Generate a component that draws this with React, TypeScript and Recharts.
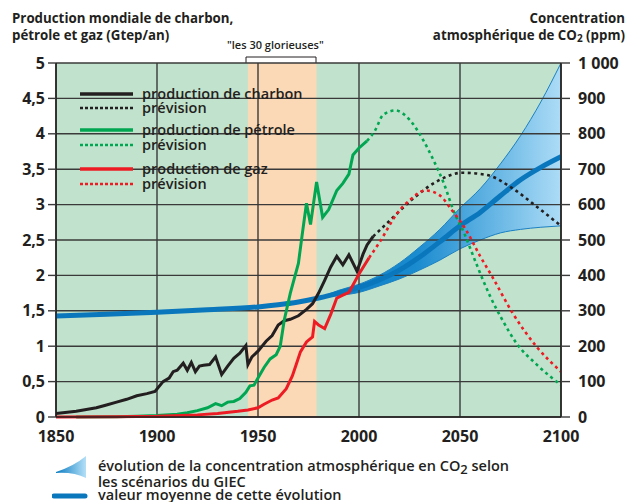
import { Area, CartesianGrid, ComposedChart, Line, ReferenceArea, ReferenceLine, XAxis, YAxis } from "recharts";

const FONT = "'Open Sans', 'DejaVu Sans', sans-serif";
const INK = "#231f20";
const GRID = "#3a3a3a";
const GREEN_BG = "#c1e2cc";
const ORANGE_BG = "#fcd9b6";
const COAL_COLOR = "#231f20";
const OIL_COLOR = "#00a651";
const GAS_COLOR = "#ed1c24";
const CO2_COLOR = "#0a77bd";

const X_TICKS = [1850, 1900, 1950, 2000, 2050, 2100];
const Y_TICKS = [0, 0.5, 1, 1.5, 2, 2.5, 3, 3.5, 4, 4.5, 5];
const CO2_TICKS = [0, 100, 200, 300, 400, 500, 600, 700, 800, 900, 1000];

// production (Gtep/an)
const COAL_YEARS = [1850, 1860, 1870, 1875, 1880, 1885, 1890, 1895, 1899, 1903, 1906, 1908, 1910, 1913, 1915, 1917, 1919, 1921, 1923, 1926, 1929, 1932, 1935, 1938, 1941, 1944, 1945, 1947, 1950, 1954, 1957, 1960, 1963, 1966, 1970, 1974, 1977, 1980, 1983, 1986, 1989, 1992, 1995, 1999, 2002, 2004, 2007];
const COAL = [0.05, 0.08, 0.13, 0.17, 0.21, 0.25, 0.3, 0.33, 0.36, 0.5, 0.55, 0.64, 0.66, 0.76, 0.66, 0.77, 0.64, 0.72, 0.73, 0.74, 0.85, 0.6, 0.72, 0.83, 0.9, 1.01, 0.74, 0.85, 0.93, 1.07, 1.15, 1.3, 1.36, 1.38, 1.43, 1.52, 1.6, 1.75, 1.93, 2.12, 2.27, 2.15, 2.29, 2.06, 2.3, 2.43, 2.55];
const COAL_FC_YEARS = [2007, 2014, 2027, 2040, 2051, 2063, 2076, 2088, 2100];
const COAL_FC = [2.55, 2.74, 3.09, 3.35, 3.45, 3.42, 3.23, 2.97, 2.7];

const OIL_YEARS = [1860, 1880, 1890, 1900, 1910, 1915, 1920, 1925, 1929, 1932, 1935, 1938, 1941, 1944, 1946, 1948, 1950, 1953, 1956, 1959, 1961, 1963, 1966, 1970, 1972, 1974, 1976, 1979, 1982, 1985, 1989, 1992, 1995, 1997, 2000, 2004];
const OIL = [0, 0.005, 0.01, 0.02, 0.04, 0.06, 0.09, 0.13, 0.19, 0.16, 0.21, 0.22, 0.26, 0.35, 0.44, 0.45, 0.55, 0.7, 0.82, 0.88, 1.0, 1.37, 1.75, 2.17, 2.6, 3.02, 2.72, 3.32, 2.82, 2.93, 3.2, 3.3, 3.43, 3.7, 3.8, 3.9];
const OIL_FC_YEARS = [2004, 2008, 2012, 2018, 2025, 2032, 2037, 2042, 2047, 2052, 2058, 2065, 2071, 2078, 2088, 2100];
const OIL_FC = [3.9, 4.05, 4.27, 4.33, 4.2, 3.9, 3.62, 3.3, 2.9, 2.6, 2.17, 1.7, 1.37, 1.04, 0.74, 0.45];

const GAS_YEARS = [1850, 1880, 1900, 1920, 1930, 1940, 1945, 1950, 1953, 1957, 1960, 1964, 1967, 1969, 1971, 1974, 1977, 1978, 1980, 1983, 1986, 1989, 1992, 1995, 2000, 2005];
const GAS = [0, 0.005, 0.01, 0.03, 0.05, 0.08, 0.1, 0.13, 0.18, 0.24, 0.27, 0.4, 0.58, 0.75, 0.92, 1.06, 1.13, 1.35, 1.3, 1.25, 1.45, 1.68, 1.72, 1.76, 2.02, 2.25];
const GAS_FC_YEARS = [2005, 2010, 2019, 2025, 2033, 2040, 2046, 2053, 2060, 2066, 2076, 2088, 2100];
const GAS_FC = [2.25, 2.46, 2.88, 3.06, 3.2, 3.13, 2.92, 2.64, 2.27, 1.98, 1.47, 0.99, 0.64];

// CO2 (ppm)
const CO2_YEARS = [1850, 1875, 1900, 1925, 1950, 1960, 1970, 1980, 1990, 2000, 2010, 2020, 2030, 2040, 2050, 2060, 2070, 2080, 2090, 2100];
const CO2_MEAN = [285, 290, 296, 303, 311, 317, 325, 336, 350, 366, 387, 415, 452, 495, 540, 578, 625, 670, 705, 735];
const BAND_YEARS = [1980, 1990, 2000, 2010, 2020, 2030, 2040, 2050, 2060, 2070, 2080, 2090, 2100];
const BAND_LOW = [336, 343, 352, 370, 390, 415, 443, 475, 500, 520, 530, 536, 540];
const BAND_HIGH = [336, 358, 375, 400, 435, 480, 530, 590, 645, 715, 795, 890, 1000];

const toPoints = (years: number[], values: number[]) => years.map((year, i) => ({ year, value: values[i] }));

const coalData = toPoints(COAL_YEARS, COAL);
const coalFcData = toPoints(COAL_FC_YEARS, COAL_FC);
const oilData = toPoints(OIL_YEARS, OIL);
const oilFcData = toPoints(OIL_FC_YEARS, OIL_FC);
const gasData = toPoints(GAS_YEARS, GAS);
const gasFcData = toPoints(GAS_FC_YEARS, GAS_FC);
const co2Data = toPoints(CO2_YEARS, CO2_MEAN);
const bandData = BAND_YEARS.map((year, i) => ({ year, range: [BAND_LOW[i], BAND_HIGH[i]] }));

const LEGEND_ROWS = [
  { label: "production de charbon", color: COAL_COLOR, dashed: false, y: 94 },
  { label: "prévision", color: COAL_COLOR, dashed: true, y: 108 },
  { label: "production de pétrole", color: OIL_COLOR, dashed: false, y: 130 },
  { label: "prévision", color: OIL_COLOR, dashed: true, y: 145 },
  { label: "production de gaz", color: GAS_COLOR, dashed: false, y: 169 },
  { label: "prévision", color: GAS_COLOR, dashed: true, y: 184 },
];

const fmtLeft = (v: number) => String(v).replace(".", ",");
const fmtRight = (v: number) => (v >= 1000 ? "1 000" : String(v));

const tickStyle = { fill: INK, fontSize: 16, fontWeight: 700, fontFamily: FONT };
const legendText = { fontFamily: FONT, fontWeight: 600, fontSize: 14.5, color: INK, lineHeight: "14px" };

export default function App() {
  return (
    <div style={{ position: "absolute", left: 0, top: 0, width: 628, height: 502, background: "#fff", overflow: "hidden" }}>
      <div style={{ position: "absolute", left: 12, top: 10, fontFamily: FONT, fontWeight: 700, fontSize: 13.3, lineHeight: "17px", color: INK }}>
        Production mondiale de charbon,
        <br />
        pétrole et gaz (Gtep/an)
      </div>
      <div style={{ position: "absolute", right: 3, top: 10, textAlign: "right", fontFamily: FONT, fontWeight: 700, fontSize: 13.3, lineHeight: "17px", color: INK }}>
        Concentration
        <br />
        atmosphérique de CO<sub style={{ fontSize: 10, verticalAlign: "-2px", lineHeight: "10px" }}>2</sub> (ppm)
      </div>
      <div style={{ position: "absolute", left: 227, top: 37, fontFamily: FONT, fontWeight: 600, fontSize: 11, color: INK }}>
        "les 30 glorieuses"
      </div>
      <svg style={{ position: "absolute", left: 0, top: 0 }} width={628} height={70}>
        <polyline points="246,64 246,57 316,57 316,64" fill="none" stroke={INK} strokeWidth={1} />
      </svg>

      <div style={{ position: "absolute", left: 0, top: 0 }}>
        <ComposedChart width={628} height={452} margin={{ top: 63, right: 0, bottom: 0, left: 0 }}>
          <defs>
            <linearGradient id="bandGrad" x1="0" y1="0" x2="1" y2="0">
              <stop offset="0" stopColor="#0a7cc2" />
              <stop offset="0.4" stopColor="#1a8bcf" />
              <stop offset="0.75" stopColor="#6cb9e6" />
              <stop offset="1" stopColor="#addcf6" />
            </linearGradient>
          </defs>
          <CartesianGrid fill={GREEN_BG} horizontal={false} vertical={false} yAxisId="left" />
          <ReferenceArea x1={1945} x2={1979} yAxisId="left" y1={0} y2={5} fill={ORANGE_BG} fillOpacity={1} stroke="none" />
          {Y_TICKS.map((t) => (
            <ReferenceLine key={"h" + t} yAxisId="left" y={t} stroke={GRID} strokeWidth={1.4} />
          ))}
          {X_TICKS.map((t) => (
            <ReferenceLine key={"v" + t} yAxisId="left" x={t} stroke={GRID} strokeWidth={1.4} />
          ))}
          <XAxis
            dataKey="year"
            type="number"
            domain={[1850, 2100]}
            ticks={X_TICKS}
            allowDataOverflow
            tickLine={false}
            axisLine={{ stroke: INK, strokeWidth: 1.5 }}
            tick={tickStyle}
            tickMargin={8}
            height={35}
          />
          <YAxis
            yAxisId="left"
            domain={[0, 5]}
            ticks={Y_TICKS}
            tickFormatter={fmtLeft}
            width={56}
            tick={tickStyle}
            tickSize={8}
            tickMargin={3}
            tickLine={{ stroke: GRID, strokeWidth: 1.4 }}
            axisLine={{ stroke: INK, strokeWidth: 1.5 }}
          />
          <YAxis
            yAxisId="co2"
            orientation="right"
            domain={[0, 1000]}
            ticks={CO2_TICKS}
            tickFormatter={fmtRight}
            width={67}
            tick={tickStyle}
            tickSize={9}
            tickMargin={8}
            tickLine={{ stroke: GRID, strokeWidth: 1.4 }}
            axisLine={{ stroke: INK, strokeWidth: 1.5 }}
          />
          <Area
            yAxisId="co2"
            data={bandData}
            dataKey="range"
            type="monotone"
            fill="url(#bandGrad)"
            fillOpacity={1}
            stroke="#1b80c2"
            strokeWidth={1}
            isAnimationActive={false}
            dot={false}
            activeDot={false}
          />
          <Line yAxisId="co2" data={co2Data} dataKey="value" type="monotone" stroke={CO2_COLOR} strokeWidth={5} dot={false} isAnimationActive={false} />
          <Line yAxisId="left" data={coalData} dataKey="value" type="linear" stroke={COAL_COLOR} strokeWidth={3} dot={false} isAnimationActive={false} />
          <Line yAxisId="left" data={coalFcData} dataKey="value" type="monotone" stroke={COAL_COLOR} strokeWidth={2.6} strokeDasharray="3 3.5" dot={false} isAnimationActive={false} />
          <Line yAxisId="left" data={oilData} dataKey="value" type="linear" stroke={OIL_COLOR} strokeWidth={3} dot={false} isAnimationActive={false} />
          <Line yAxisId="left" data={oilFcData} dataKey="value" type="monotone" stroke={OIL_COLOR} strokeWidth={2.6} strokeDasharray="3 3.5" dot={false} isAnimationActive={false} />
          <Line yAxisId="left" data={gasData} dataKey="value" type="linear" stroke={GAS_COLOR} strokeWidth={3} dot={false} isAnimationActive={false} />
          <Line yAxisId="left" data={gasFcData} dataKey="value" type="monotone" stroke={GAS_COLOR} strokeWidth={2.6} strokeDasharray="3 3.5" dot={false} isAnimationActive={false} />
        </ComposedChart>
      </div>

      {LEGEND_ROWS.map((row, i) => (
        <div key={i} style={{ position: "absolute", left: 80, top: row.y - 7, height: 14, display: "flex", alignItems: "center" }}>
          <svg width={56} height={14}>
            <line x1={0} x2={53} y1={7} y2={7} stroke={row.color} strokeWidth={row.dashed ? 2.6 : 3.5} strokeDasharray={row.dashed ? "3 2" : undefined} />
          </svg>
          <span style={{ ...legendText, marginLeft: 6 }}>{row.label}</span>
        </div>
      ))}

      <svg style={{ position: "absolute", left: 52, top: 454 }} width={40} height={48}>
        <defs>
          <linearGradient id="iconGrad" x1="0" y1="0" x2="1" y2="0">
            <stop offset="0" stopColor="#0a7cc2" />
            <stop offset="1" stopColor="#b4e0f7" />
          </linearGradient>
        </defs>
        <path d="M4,18 Q22,12 34,2 L34,24 Q22,18 4,19 Z" fill="url(#iconGrad)" />
        <line x1={2} x2={33} y1={42} y2={42} stroke={CO2_COLOR} strokeWidth={5} strokeLinecap="round" />
      </svg>
      <div style={{ position: "absolute", left: 98, top: 458, ...legendText, lineHeight: "15px" }}>
        évolution de la concentration atmosphérique en CO<sub style={{ fontSize: 13, verticalAlign: "-3px", lineHeight: "10px" }}>2</sub> selon
        <br />
        les scénarios du GIEC
      </div>
      <div style={{ position: "absolute", left: 98, top: 488, ...legendText }}>valeur moyenne de cette évolution</div>
    </div>
  );
}
